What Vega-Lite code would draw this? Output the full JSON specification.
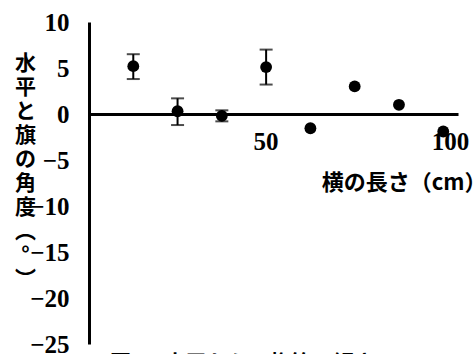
{
  "$schema": "https://vega.github.io/schema/vega-lite/v6.json",
  "width": 369,
  "height": 322,
  "autosize": {"type": "none"},
  "padding": {"left": 89, "top": 22, "right": 18, "bottom": 10},
  "background": "white",
  "title": {
    "text": "図5　水平からの旗竿の傾き",
    "orient": "bottom",
    "anchor": "start",
    "frame": "group",
    "dx": 21,
    "offset": -4,
    "baseline": "top",
    "font": "Noto Sans CJK JP",
    "fontWeight": "bold",
    "fontSize": 21,
    "color": "black"
  },
  "config": {
    "view": {"stroke": null},
    "axis": {
      "grid": false,
      "ticks": false,
      "domainColor": "black",
      "domainWidth": 3,
      "labelColor": "black",
      "labelFont": "Liberation Sans Narrow",
      "labelFontWeight": "bold",
      "labelFontSize": 25,
      "titleColor": "black",
      "titleFont": "Noto Sans CJK JP",
      "titleFontWeight": "bold",
      "titleFontSize": 21
    }
  },
  "data": {
    "values": [
      {"x": 12, "y": 5.2, "lo": 3.8, "hi": 6.5},
      {"x": 24, "y": 0.3, "lo": -1.2, "hi": 1.7},
      {"x": 36, "y": -0.2, "lo": -0.8, "hi": 0.4},
      {"x": 48, "y": 5.1, "lo": 3.2, "hi": 7.0},
      {"x": 60, "y": -1.55, "lo": null, "hi": null},
      {"x": 72, "y": 3.0, "lo": null, "hi": null},
      {"x": 84, "y": 1.0, "lo": null, "hi": null},
      {"x": 96, "y": -1.9, "lo": null, "hi": null}
    ]
  },
  "encoding": {
    "x": {
      "field": "x",
      "type": "quantitative",
      "scale": {"domain": [0, 100], "nice": false, "zero": false},
      "axis": {
        "values": [50, 100],
        "offset": -230,
        "labelPadding": 15,
        "labelFlush": false,
        "labelOffset": -8,
        "labelBaseline": "top",
        "title": "横の長さ（cm）",
        "titleFontSize": 22,
        "titleAnchor": "end",
        "titleAlign": "right",
        "titleBaseline": "middle",
        "titleX": 397,
        "titleY": 68
      }
    }
  },
  "layer": [
    {
      "transform": [{"filter": "datum.lo != null"}],
      "mark": {"type": "rule", "color": "black", "strokeWidth": 2},
      "encoding": {
        "y": {
          "field": "lo",
          "type": "quantitative",
          "scale": {"domain": [-25, 10], "nice": false},
          "axis": {
            "values": [-25, -20, -15, -10, -5, 0, 5, 10],
            "labelPadding": 20,
            "title": ["水", "平", "と", "旗", "の", "角", "度", "︵", "°", "︶"],
            "titleAngle": 0,
            "titleAlign": "center",
            "titleBaseline": "top",
            "titleLineHeight": 24,
            "titleX": -64,
            "titleY": 30
          }
        },
        "y2": {"field": "hi"}
      }
    },
    {
      "transform": [{"filter": "datum.lo != null"}],
      "mark": {"type": "tick", "orient": "horizontal", "color": "black", "size": 13, "thickness": 2},
      "encoding": {"y": {"field": "lo", "type": "quantitative"}}
    },
    {
      "transform": [{"filter": "datum.hi != null"}],
      "mark": {"type": "tick", "orient": "horizontal", "color": "black", "size": 13, "thickness": 2},
      "encoding": {"y": {"field": "hi", "type": "quantitative"}}
    },
    {
      "mark": {"type": "circle", "color": "black", "opacity": 1, "size": 140},
      "encoding": {"y": {"field": "y", "type": "quantitative"}}
    }
  ]
}
